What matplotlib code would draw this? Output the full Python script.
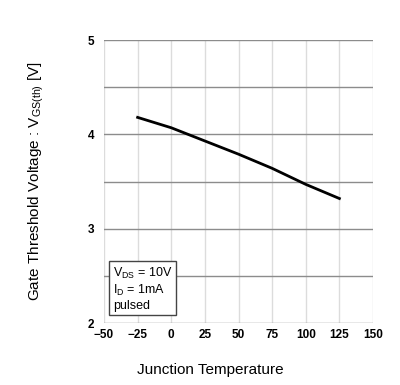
import matplotlib.pyplot as plt

plt.rcParams['font.family'] = ['Liberation Sans', 'DejaVu Sans']

# Gate threshold voltage vs junction temperature
temps = [-25, 0, 25, 50, 75, 100, 125]
vgs_th = [4.18, 4.07, 3.93, 3.79, 3.64, 3.47, 3.32]

x_ticks = [-50, -25, 0, 25, 50, 75, 100, 125, 150]
y_ticks = [2, 3, 4, 5]
y_grid = [2, 2.5, 3, 3.5, 4, 4.5, 5]


def main():
    fig = plt.figure(figsize=(4.0, 3.85), dpi=100)
    ax = fig.add_axes([0.26, 0.161, 0.6725, 0.735])

    for x in x_ticks:
        ax.axvline(x, color='#dcdcdc', lw=1.0, zorder=0)
    for y in y_grid:
        ax.axhline(y, color='#8c8c8c', lw=1.0, zorder=1)

    ax.plot(temps, vgs_th, color='black', lw=2.0, zorder=3)

    ax.set_xlim(-50, 150)
    ax.set_ylim(2, 5)
    ax.set_xticks(x_ticks)
    ax.set_xticklabels([str(v).replace('-', '\u2212') for v in x_ticks])
    ax.set_yticks(y_ticks)
    for s in ax.spines.values():
        s.set_visible(False)
    ax.tick_params(length=0, labelsize=8.5, pad=4)
    ax.tick_params(axis='y', pad=7)
    for lbl in ax.get_xticklabels() + ax.get_yticklabels():
        lbl.set_fontweight('bold')

    fig.text(0.525, 0.039, "Junction Temperature", fontsize=11,
             ha='center', va='center')
    fig.text(0.09, 0.53, r"Gate Threshold Voltage : V$_{\mathregular{GS(th)}}$ [V]",
             fontsize=11, rotation=90, ha='center', va='center')

    ax.text(-43.5, 2.12, "V$_{\\mathregular{DS}}$ = 10V\nI$_{\\mathregular{D}}$ = 1mA\npulsed",
            fontsize=9, linespacing=1.2, va='bottom', ha='left', zorder=5,
            bbox=dict(boxstyle='square,pad=0.3', fc='white', ec='#444444', lw=1.0))

    fig.savefig('out.png', dpi=100)
    plt.close(fig)


if __name__ == "__main__":
    main()
